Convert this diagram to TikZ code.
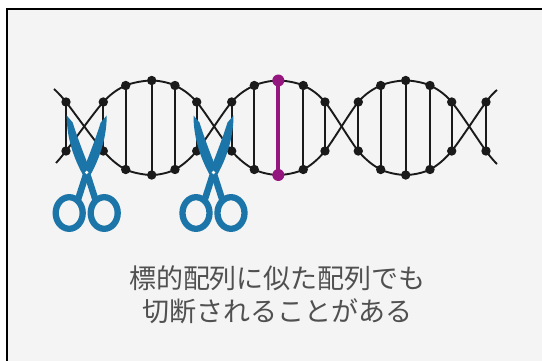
\documentclass[tikz,border=0pt]{standalone}
\usepackage{fontspec}
\newfontfamily\jpfont{Noto Sans CJK JP}
\definecolor{panelbg}{HTML}{F4F4F4}
\definecolor{strandcol}{HTML}{1A1A1A}
\definecolor{hilite}{RGB}{150,22,128}
\definecolor{shearblue}{RGB}{28,117,168}
\definecolor{caption}{HTML}{505050}
\tikzset{
  strand/.style={draw=strandcol, line width=1.9pt, line join=round},
  rung/.style={draw=strandcol, line width=1.8pt},
  hrung/.style={draw=hilite, line width=4pt},
  captionfont/.style={font=\jpfont\fontsize{27}{32}\selectfont, text=caption, inner sep=0pt},
  pics/shears/.style={code={
    % blades
    \fill[shearblue] (-20,-57) .. controls (-20,-40) and (-16,-20) .. (-4,2)
         -- (4,-1) .. controls (-2,-16) and (-9,-34) .. (-14,-50) -- cycle;
    \fill[shearblue] (20,-57) .. controls (20,-40) and (16,-20) .. (4,2)
         -- (-4,-1) .. controls (2,-16) and (9,-34) .. (14,-50) -- cycle;
    % shanks
    \draw[shearblue, line width=6.5pt] (0,0) -- (-9,28);
    \draw[shearblue, line width=6.5pt] (0,0) -- (9,28);
    % finger rings
    \draw[shearblue, line width=6.3pt] (-17.5,40.5) ellipse [x radius=13.5pt, y radius=15.8pt];
    \draw[shearblue, line width=6.3pt] (17.5,40.5) ellipse [x radius=13.5pt, y radius=15.8pt];
    % pivot screw
    \fill[white] (0,0) circle (1.8pt);
  }}
}
\begin{document}
\begin{tikzpicture}[x=1pt, y=-1pt]
  \useasboundingbox (0,0) rectangle (542,361);
  \fill[white] (0,0) rectangle (542,361);
  \fill[panelbg] (7,9) rectangle (542,361);
  \draw[black, line width=2.4pt] (7,361) -- (7,9) -- (542,9);

  % base-pair positions: top (t) and bottom (b) ends of each rung
  \foreach \i/\x/\k in {1/66/n,2/103.3/n,3/125.7/m,4/151.7/p,5/175/m,6/196.7/n,
                        7/231.7/n,8/254.3/m,9/278.3/p,10/303.3/m,11/325/n,
                        12/358.3/n,13/380.7/m,14/405.7/p,15/430/m,16/451.7/n,17/486/n}{
    \if\k n
      \coordinate (t\i) at (\x,102); \coordinate (b\i) at (\x,151);
    \else\if\k m
      \coordinate (t\i) at (\x,85.5); \coordinate (b\i) at (\x,169.5);
    \else
      \coordinate (t\i) at (\x,80.5); \coordinate (b\i) at (\x,175);
    \fi\fi
  }
  \coordinate (a0) at (54,89);  \coordinate (a1) at (497,90);
  \coordinate (c0) at (56,163); \coordinate (c1) at (497,164);

  % the two backbones
  \draw[strand] plot[smooth, tension=0.5] coordinates {(a0) (t1) (b2) (b3) (b4) (b5) (b6) (t7) (t8) (t9) (t10) (t11) (b12) (b13) (b14) (b15) (b16) (t17) (a1)};
  \draw[strand] plot[smooth, tension=0.5] coordinates {(c0) (b1) (t2) (t3) (t4) (t5) (t6) (b7) (b8) (b9) (b10) (b11) (t12) (t13) (t14) (t15) (t16) (b17) (c1)};

  % rungs and nucleotide dots
  \foreach \i in {1,...,8,10,11,...,17}{
    \draw[rung] (t\i) -- (b\i);
    \fill[strandcol] (t\i) circle (4.7pt);
    \fill[strandcol] (b\i) circle (4.7pt);
  }
  \draw[hrung] (t9) -- (b9);
  \fill[hilite] (t9) circle (6pt);
  \fill[hilite] (b9) circle (6pt);

  % scissors at the two cut sites
  \pic (cutA) at (86.7,172.5) {shears};
  \pic (cutB) at (213.5,172.5) {shears};

  % caption
  \node[captionfont] (line1) at (277.5,278.5) {標的配列に似た配列でも};
  \node[captionfont] (line2) at (277.5,311.5) {切断されることがある};
\end{tikzpicture}
\end{document}
